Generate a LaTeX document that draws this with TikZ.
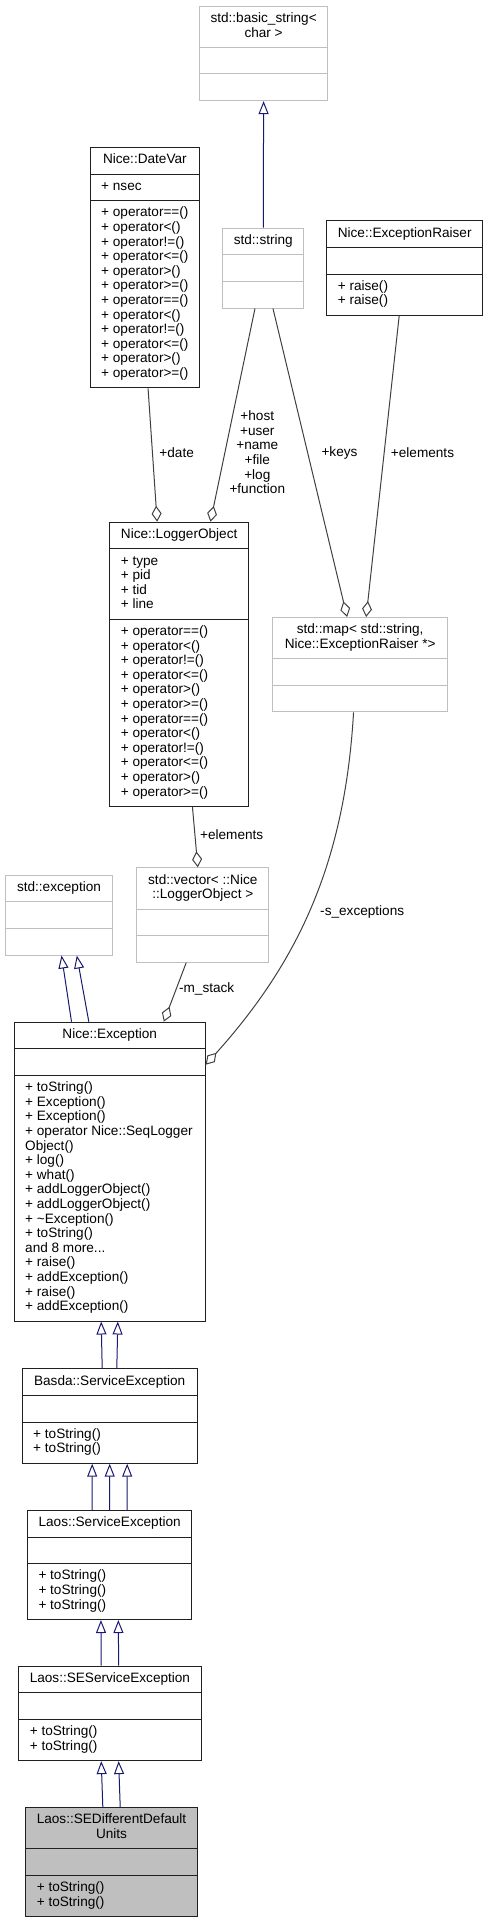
\documentclass[tikz,border=0pt]{standalone}
\usepackage{fontspec}
\usepackage{tikz}
\usetikzlibrary{shapes.multipart, arrows.meta}
\newfontfamily\umlsans{Liberation Sans}
\definecolor{navyline}{HTML}{191970}
\definecolor{edgegray}{HTML}{404040}
\definecolor{boxgray}{HTML}{BFBFBF}
\definecolor{boxblack}{HTML}{202020}
\newcommand\umltitle[1]{\begin{tabular}{@{}c@{}}#1\end{tabular}}
\newcommand\umlrows[1]{\begin{tabular}{@{}l@{}}#1\end{tabular}}
\tikzset{cls/.style = {rectangle split, rectangle split parts=3,
    rectangle split part align={center,left,left}, draw=boxblack, line width=1pt,
    anchor=north west, inner xsep=11pt, inner ysep=5.5pt, minimum width=#1,
    font=\umlsans\fontsize{13.6}{14.6}\selectfont},
  ext/.style = {cls=#1, draw=boxgray},
  lbl/.style = {inner sep=0, font=\umlsans\fontsize{13.6}{14.6}\selectfont},
  inh/.style = {draw=navyline, line width=1pt, -{Triangle[open, length=13pt, width=10pt]}},
  agg/.style = {draw=edgegray, line width=1pt, -{Diamond[open, length=16pt, width=10pt]}}}

\begin{document}
\begin{tikzpicture}[x=1pt, y=-1pt]
    \useasboundingbox (0, 0) rectangle (487, 1919);

    % classes
    \node [ext=126.7] (bs) at (199, 5.7) {\umltitle{std::basic\_string<\\char >}\nodepart{two}\strut\nodepart{three}\strut};
    \node [ext=80] (str) at (222.3, 227.7) {\umltitle{std::string}\nodepart{two}\strut\nodepart{three}\strut};
    \node [cls=108.3] (dv) at (89.7, 147) {\umltitle{Nice::DateVar}\nodepart{two}\umlrows{+ nsec}\nodepart{three}\umlrows{+ operator==()\\+ operator<()\\+ operator!=()\\+ operator<=()\\+ operator>()\\+ operator>=()\\+ operator==()\\+ operator<()\\+ operator!=()\\+ operator<=()\\+ operator>()\\+ operator>=()}};
    \node [cls=155] (er) at (326.3, 220.3) {\umltitle{Nice::ExceptionRaiser}\nodepart{two}\strut\nodepart{three}\umlrows{+ raise()\\+ raise()}};
    \node [cls=138.7] (lo) at (109.3, 521.7) {\umltitle{Nice::LoggerObject}\nodepart{two}\umlrows{+ type\\+ pid\\+ tid\\+ line}\nodepart{three}\umlrows{+ operator==()\\+ operator<()\\+ operator!=()\\+ operator<=()\\+ operator>()\\+ operator>=()\\+ operator==()\\+ operator<()\\+ operator!=()\\+ operator<=()\\+ operator>()\\+ operator>=()}};
    \node [ext=174.7] (mp) at (272.3, 617) {\umltitle{std::map< std::string,\\Nice::ExceptionRaiser *>}\nodepart{two}\strut\nodepart{three}\strut};
    \node [ext=132] (vec) at (136.3, 867.3) {\umltitle{std::vector< ::Nice\\::LoggerObject >}\nodepart{two}\strut\nodepart{three}\strut};
    \node [ext=107] (sex) at (5, 874.7) {\umltitle{std::exception}\nodepart{two}\strut\nodepart{three}\strut};
    \node [cls=191] (ne) at (13.7, 1021.7) {\umltitle{Nice::Exception}\nodepart{two}\strut\nodepart{three}\umlrows{+ toString()\\+ Exception()\\+ Exception()\\+ operator Nice::SeqLogger\\Object()\\+ log()\\+ what()\\+ addLoggerObject()\\+ addLoggerObject()\\+ \textasciitilde Exception()\\+ toString()\\and 8 more...\\+ raise()\\+ addException()\\+ raise()\\+ addException()}};
    \node [cls=175] (bse) at (21.7, 1368.3) {\umltitle{Basda::ServiceException}\nodepart{two}\strut\nodepart{three}\umlrows{+ toString()\\+ toString()}};
    \node [cls=164.3] (lse) at (27, 1510) {\umltitle{Laos::ServiceException}\nodepart{two}\strut\nodepart{three}\umlrows{+ toString()\\+ toString()\\+ toString()}};
    \node [cls=181.7] (sese) at (18.3, 1665.7) {\umltitle{Laos::SEServiceException}\nodepart{two}\strut\nodepart{three}\umlrows{+ toString()\\+ toString()}};
    \node [cls=168, fill=boxgray] (sedd) at (25.3, 1807) {\umltitle{Laos::SEDifferentDefault\\Units}\nodepart{two}\strut\nodepart{three}\umlrows{+ toString()\\+ toString()}};

    % inheritance
    \draw [inh] (str.north) -- (bs.south);
    \draw [inh] ([xshift=-38.2]ne.north) -- ([xshift=2.5]sex.south);
    \draw [inh] ([xshift=-20.9]ne.north) -- ([xshift=17.8]sex.south);
    \draw [inh] ([xshift=-7.5]bse.north) -- ([xshift=-8.5]ne.south);
    \draw [inh] ([xshift=7.1]bse.north) -- ([xshift=8.1]ne.south);
    \draw [inh] ([xshift=-17.5]lse.north) -- ([xshift=-17.5]bse.south);
    \draw [inh] (lse.north) -- (bse.south);
    \draw [inh] ([xshift=17.5]lse.north) -- ([xshift=17.5]bse.south);
    \draw [inh] ([xshift=-8.7]sese.north) -- ([xshift=-8.7]lse.south);
    \draw [inh] ([xshift=8.7]sese.north) -- ([xshift=8.7]lse.south);
    \draw [inh] ([xshift=-8.7]sedd.north) -- ([xshift=-8.7]sese.south);
    \draw [inh] ([xshift=8.7]sedd.north) -- ([xshift=8.7]sese.south);

    % members
    \draw [agg] ([xshift=3.2]dv.south) -- ([xshift=-22]lo.north);
    \draw [agg] ([xshift=-8.3]str.south) -- ([xshift=31.3]lo.north);
    \draw [agg] ([xshift=9.7]str.south) -- ([xshift=-13]mp.north);
    \draw [agg] ([xshift=-5.5]er.south) -- ([xshift=6]mp.north);
    \draw [agg] ([xshift=13.3]lo.south) -- ([xshift=-5]vec.north);
    \draw [agg] ([xshift=-16.6]vec.south) -- ([xshift=54.1]ne.north);
    \draw [agg] ([xshift=-6.6]mp.south) .. controls (345, 860) and (300, 960) .. ([yshift=-43]ne.north east);

    \node [lbl] (ldate) at (176.7, 452.5) {+date};
    \node [lbl, align=center] (lstr) at (257.3, 452.3) {+host\\+user\\+name\\+file\\+log\\+function};
    \node [lbl] (lkeys) at (339.5, 452.5) {+keys};
    \node [lbl] (lraise) at (422.5, 452.5) {+elements};
    \node [lbl] (llog) at (231.7, 834.3) {+elements};
    \node [lbl] (lexc) at (362.2, 911.7) {-s\_exceptions};
    \node [lbl] (lstack) at (206.7, 988.7) {-m\_stack};
  \end{tikzpicture}
\end{document}
